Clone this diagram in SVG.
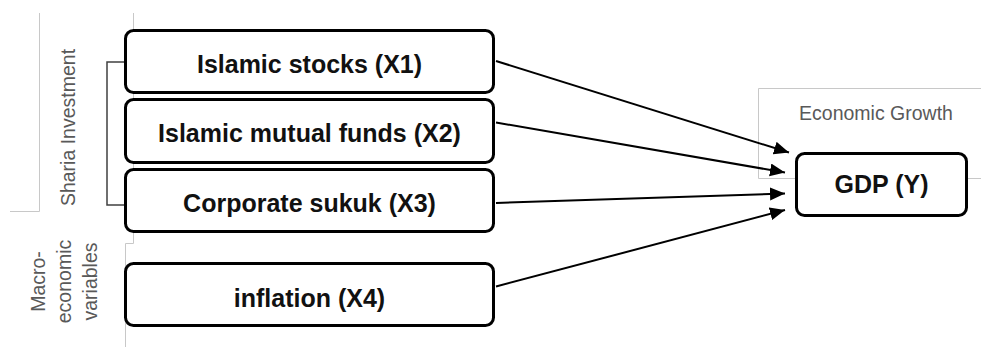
<svg xmlns="http://www.w3.org/2000/svg" width="981" height="347" viewBox="0 0 981 347">
<style>
.frame{fill:none;stroke:#c8c8c8;stroke-width:1}
.side{font-family:"Liberation Sans",Arial,sans-serif;font-size:19.5px;fill:#595959}
.box{fill:#fff;stroke:#000;stroke-width:3}
.lbl{font-family:"Liberation Sans",Arial,sans-serif;font-size:25px;font-weight:bold;fill:#111;text-anchor:middle}
.conn{stroke:#000;stroke-width:2;fill:none;marker-end:url(#arr)}
.brk{fill:none;stroke:#404040;stroke-width:1.5}
</style>
<defs>
<marker id="arr" markerUnits="userSpaceOnUse" markerWidth="16" markerHeight="14" refX="15" refY="6.5" orient="auto">
<path d="M0,0 L15,6.5 L0,13 z" fill="#000"/>
</marker>
</defs>
<rect width="981" height="347" fill="#fff"/>
<g id="frames">
<path class="frame" d="M39.5,13 V211.5 H10"/>
<path class="frame" d="M133.5,13 V243.5 H125.5 V347"/>
<path class="frame" d="M981,88.5 H758.5 V178.5 H981"/>
</g>
<g id="sharia-label">
<text class="side" text-anchor="middle" transform="translate(75,127.5) rotate(-90)">Sharia Investment</text>
<path class="brk" d="M124,62 H107 V205 H124"/>
</g>
<g id="macro-label">
<text class="side" text-anchor="middle" transform="translate(45,281.5) rotate(-90)">Macro-</text>
<text class="side" text-anchor="middle" transform="translate(71,281.5) rotate(-90)">economic</text>
<text class="side" text-anchor="middle" transform="translate(97,281.5) rotate(-90)">variables</text>
</g>
<g id="growth-label">
<text class="side" text-anchor="middle" x="876" y="120">Economic Growth</text>
</g>
<g id="connectors">
<line class="conn" x1="496" y1="61" x2="789" y2="152.5"/>
<line class="conn" x1="496" y1="122.5" x2="785" y2="172.5"/>
<line class="conn" x1="496" y1="203" x2="785" y2="193.5"/>
<line class="conn" x1="496" y1="286.5" x2="785" y2="210"/>
</g>
<g id="x1">
<rect class="box" x="125.5" y="30.5" width="368" height="62" rx="8"/>
<text class="lbl" x="309.5" y="73">Islamic stocks (X1)</text>
</g>
<g id="x2">
<rect class="box" x="125.5" y="99.5" width="368" height="63" rx="8"/>
<text class="lbl" x="309.5" y="142">Islamic mutual funds (X2)</text>
</g>
<g id="x3">
<rect class="box" x="125.5" y="169.5" width="368" height="62" rx="8"/>
<text class="lbl" x="309.5" y="212">Corporate sukuk (X3)</text>
</g>
<g id="x4">
<rect class="box" x="125.5" y="263.5" width="368" height="62" rx="8"/>
<text class="lbl" x="309.5" y="307">inflation (X4)</text>
</g>
<g id="y">
<rect class="box" x="796.5" y="153.5" width="170" height="62" rx="8"/>
<text class="lbl" x="881.5" y="193">GDP (Y)</text>
</g>
</svg>
